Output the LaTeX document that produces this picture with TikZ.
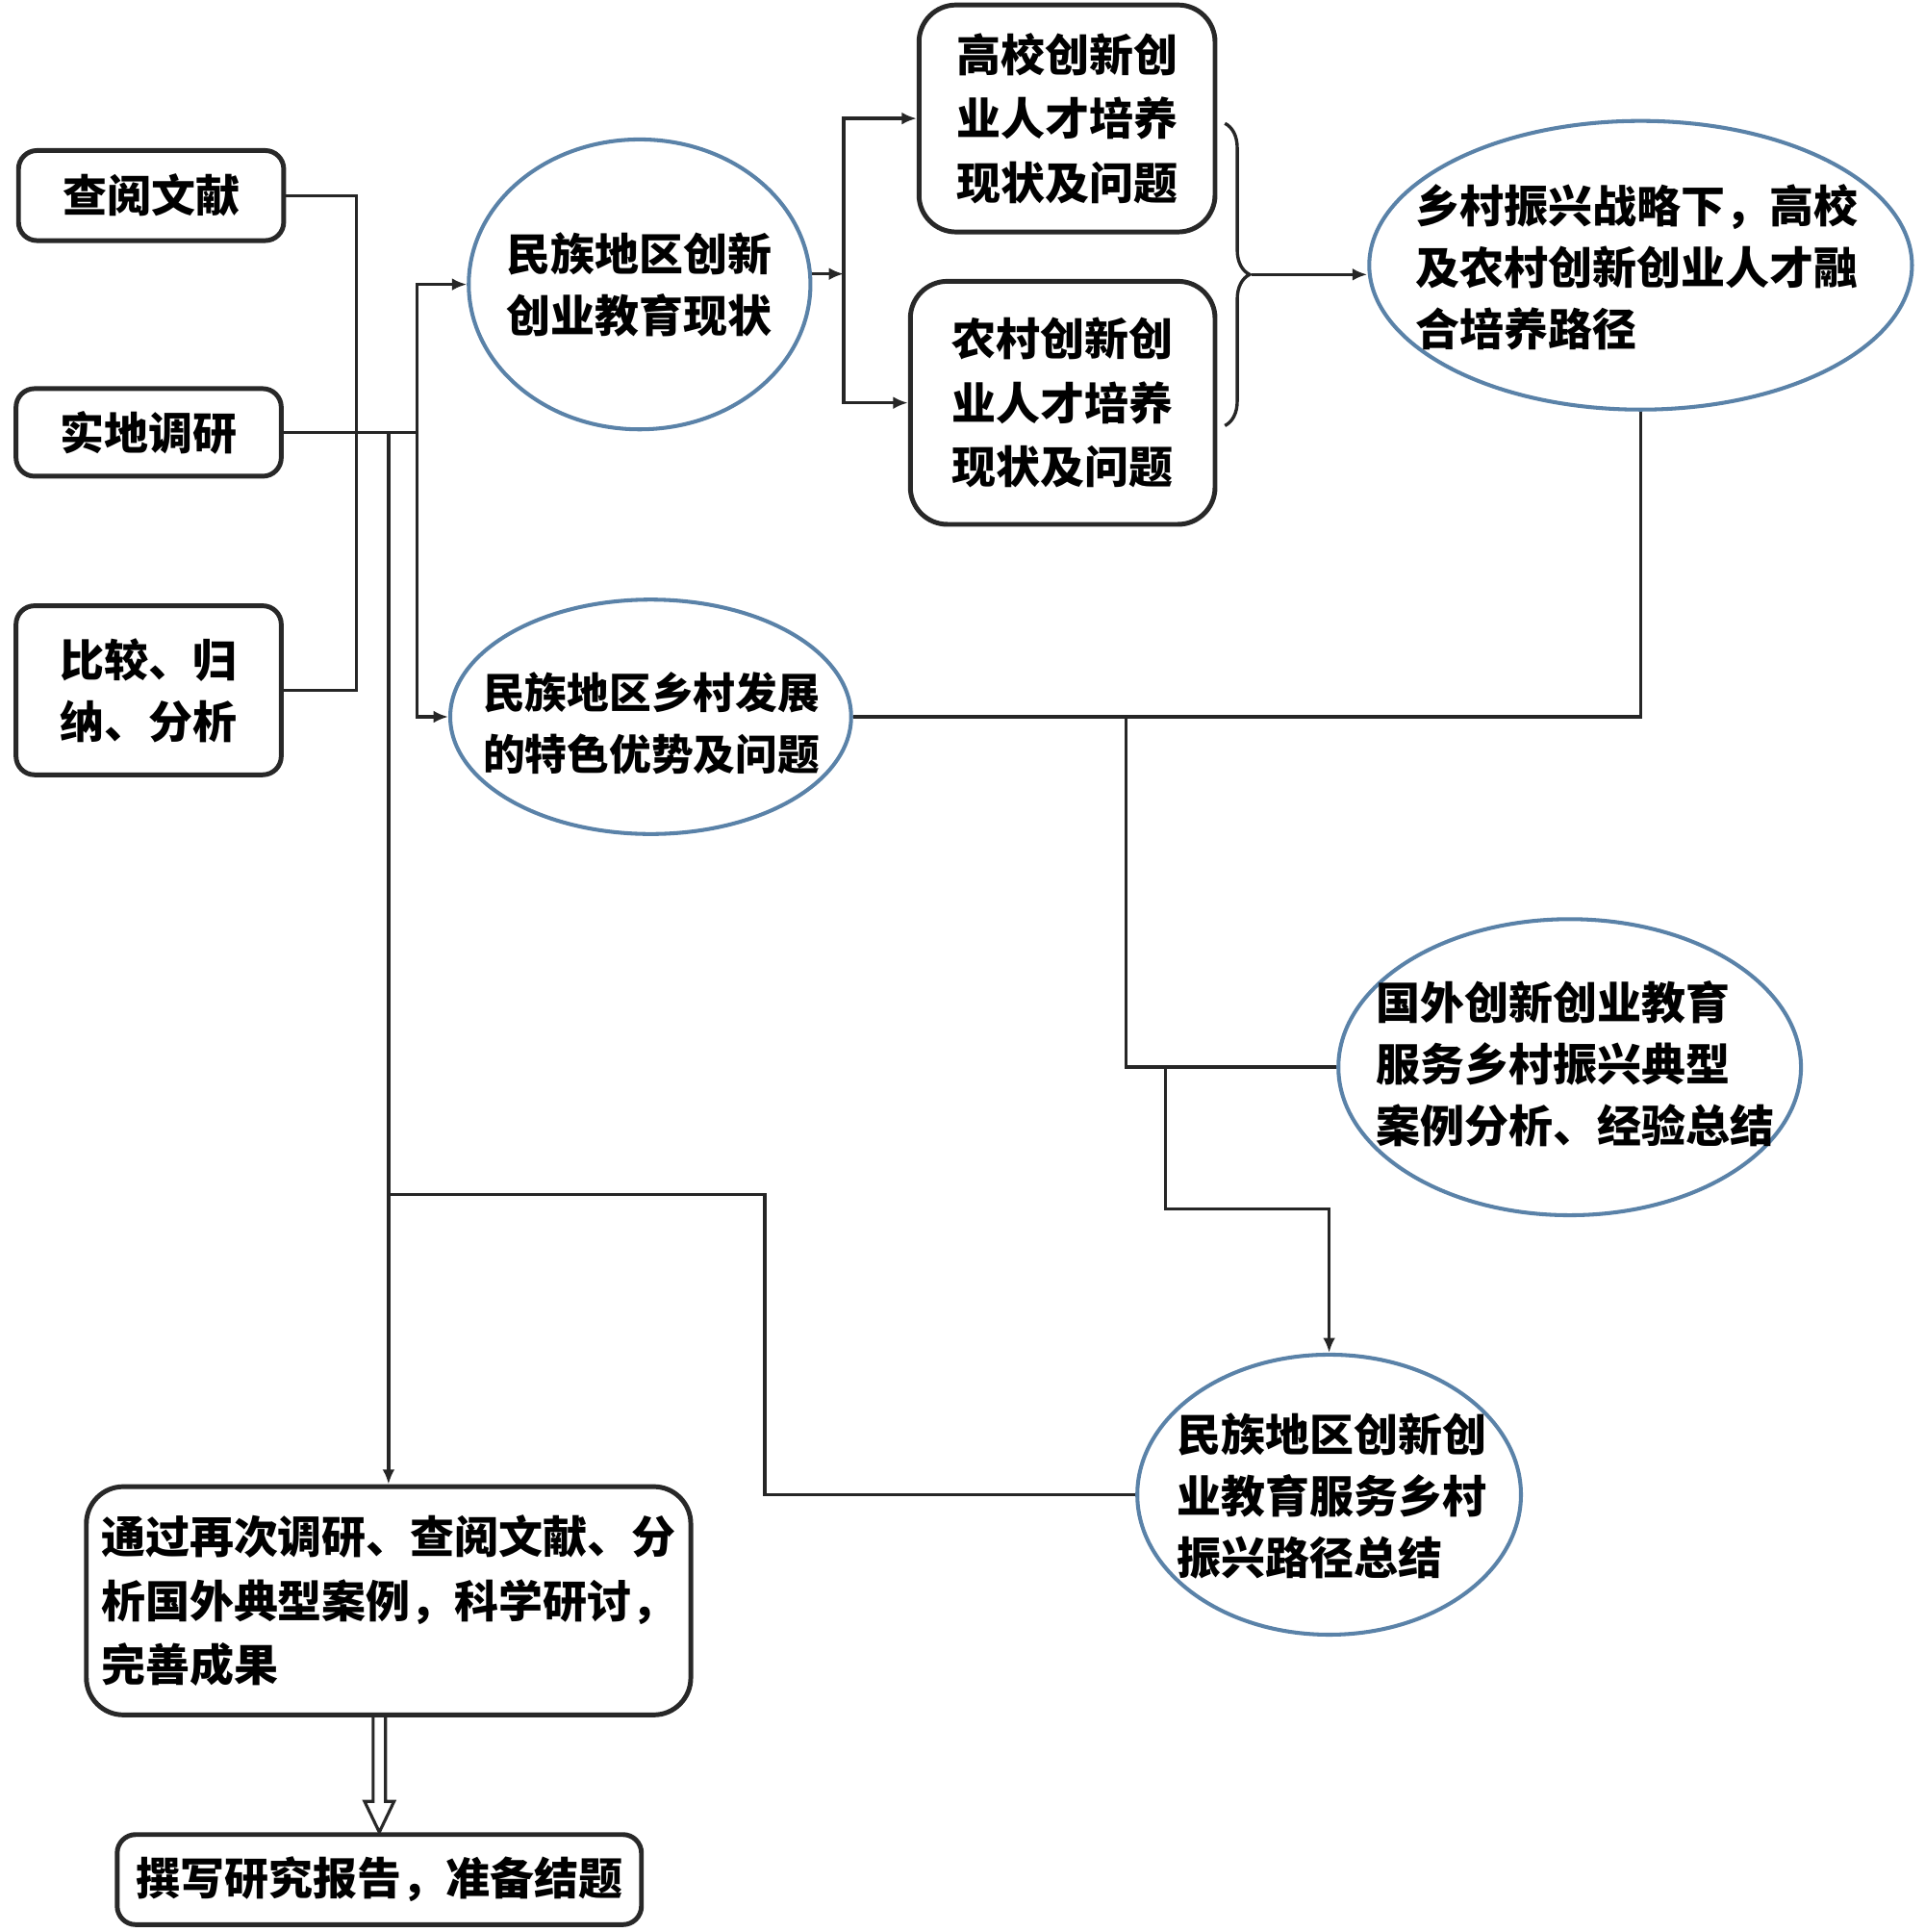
\documentclass[tikz,border=0pt]{standalone}
\usepackage{fontspec}
\newfontfamily\cjk{Noto Sans CJK SC}
\usepackage{tikz}
\usetikzlibrary{arrows.meta,shapes.geometric,decorations.pathreplacing,calc}

\definecolor{ovalblue}{RGB}{90,130,168}
\definecolor{boxgray}{RGB}{40,40,40}

\tikzset{
  box/.style={draw=boxgray, line width=1.1pt, rounded corners=0.15cm, inner sep=0pt},
  bigbox/.style={box, rounded corners=0.3cm},
  oval/.style={draw=ovalblue, line width=0.9pt, ellipse, inner sep=0pt},
  txt/.style={font=\cjk\bfseries\fontsize{10.2pt}{14.2pt}\selectfont, align=center, inner sep=0pt},
  wide/.style={font=\cjk\bfseries\fontsize{10.2pt}{14.8pt}\selectfont},
  narrow/.style={font=\cjk\bfseries\fontsize{9.7pt}{14.2pt}\selectfont},
  line/.style={line width=0.75pt, draw=black!85},
  arr/.style={line, -{Latex[length=1.2mm,width=1mm]}},
}

\begin{document}
\begin{tikzpicture}

\useasboundingbox (0,0) rectangle (15.6,-15.66);

% methods
\node[box, txt, minimum width=2.15cm, minimum height=0.73cm] (cy) at (1.225,-1.585) {查阅文献};
\node[box, txt, minimum width=2.15cm, minimum height=0.71cm] (sd) at (1.205,-3.505) {实地调研};
\node[box, txt, minimum width=2.15cm, minimum height=1.37cm] (bj) at (1.205,-5.595) {比较、归\\纳、分析};

% ellipses
\node[oval, minimum width=2.77cm, minimum height=2.35cm] (e1) at (5.185,-2.305) {};
\node[txt] at (e1) {民族地区创新\\创业教育现状};

\node[oval, minimum width=3.25cm, minimum height=1.9cm] (e2) at (5.275,-5.81) {};
\node[txt, narrow] at (5.28,-5.86) {民族地区乡村发展\\的特色优势及问题};

\node[oval, minimum width=4.4cm, minimum height=2.34cm] (e3) at (13.3,-2.15) {};
\node[txt, align=left] at (13.27,-2.17) {乡村振兴战略下，高校\\及农村创新创业人才融\\合培养路径};

\node[oval, minimum width=3.75cm, minimum height=2.4cm] (e4) at (12.725,-8.65) {};
\node[txt, align=left] at (12.77,-8.62) {国外创新创业教育\\服务乡村振兴典型\\案例分析、经验总结};

\node[oval, minimum width=3.11cm, minimum height=2.27cm] (e5) at (10.775,-12.115) {};
\node[txt, align=left] at (10.8,-12.13) {民族地区创新创\\业教育服务乡村\\振兴路径总结};

% talent boxes
\node[bigbox, txt, wide, minimum width=2.4cm, minimum height=1.84cm] (gx) at (8.65,-0.96) {高校创新创\\业人才培养\\现状及问题};
\node[bigbox, txt, wide, minimum width=2.47cm, minimum height=1.97cm] (nc) at (8.615,-3.265) {农村创新创\\业人才培养\\现状及问题};

% results
\node[bigbox, txt, wide, align=left, minimum width=4.9cm, minimum height=1.85cm] (report) at (3.15,-12.975) {通过再次调研、查阅文献、分\\析国外典型案例，科学研讨，\\完善成果};
\node[box, txt, minimum width=4.25cm, minimum height=0.73cm] (write) at (3.075,-15.235) {撰写研究报告，准备结题};

% connectors
\coordinate (fork0) at (3.38,-3.505);
\coordinate (fork1) at (6.84,-2.22);
\coordinate (bt) at (9.93,-1.0);
\coordinate (bb) at (9.93,-3.45);
\coordinate (btip) at (10.15,-2.225);
\coordinate (bend) at (6.2,-9.68);
\coordinate (m1) at (9.13,-5.81);
\coordinate (m2) at (9.45,-8.65);

\draw[line] (cy.east) -- ++(0.57,0) |- (bj.east);
\draw[line] (sd.east) -- (fork0);
\foreach \e in {e1,e2}
  \draw[arr] (fork0) |- (\e.west);
\draw[arr] (sd.east -| report.north) -- (report.north);

\draw[arr] (e1.east |- fork1) -- (fork1);
\foreach \b in {gx,nc}
  \draw[arr] (fork1) |- (\b.west);

\draw[line, decorate, decoration={brace, amplitude=0.2cm}] (bt) -- (bb);
\draw[arr] (btip) -- (btip -| e3.west);

\draw[line] (e2.east) -| (e3.south);
\draw[line] (m1) |- (e4.west);
\draw[arr] (m2) -- ++(0,-1.15) -| (e5.north);
\draw[line] (e5.west) -| (bend) -- (bend -| report.north);

% hollow arrow
\draw[line width=0.7pt, draw=boxgray]
  ($(report.south -| write.north)+(-0.05,0)$) -- ($(write.north)+(-0.05,0.25)$)
  -- ++(-0.07,0) -- (write.north) -- ($(write.north)+(0.12,0.25)$)
  -- ++(-0.07,0) -- ($(report.south -| write.north)+(0.05,0)$);

\end{tikzpicture}
\end{document}
